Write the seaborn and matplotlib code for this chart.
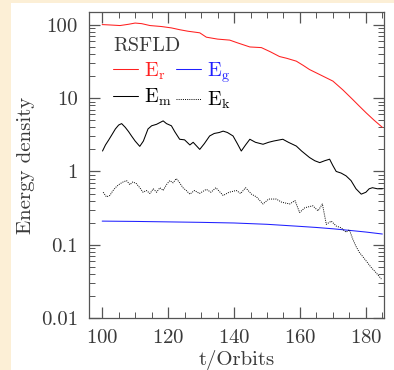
import numpy as np
import pandas as pd
import seaborn as sns
import matplotlib
matplotlib.use("Agg")
import matplotlib.pyplot as plt
from matplotlib.ticker import MultipleLocator, FixedLocator, FixedFormatter, LogLocator, NullFormatter
from matplotlib.patches import Rectangle

# ---- data ----
er_t = [100, 102, 105.4, 108, 110, 112, 114.5, 118, 121, 123.5, 126, 129.6, 131.6, 135, 138.7,
        141, 144.8, 148.3, 151, 153.8, 156, 158.9, 161, 162.9, 166, 170, 173, 176, 178, 180.1, 182.5, 185]
er_v = [101, 100, 98, 102, 106, 104, 98, 95, 91, 86, 82, 78, 68, 64, 62,
        57, 50, 49, 43, 37, 35, 32, 28, 24.6, 21, 17.1, 13, 9.6, 7.8, 6.3, 5.0, 4.0]

eg_t = [100, 110, 120, 130, 140, 150, 160, 165, 170, 175, 180, 185]
eg_v = [0.21, 0.208, 0.205, 0.202, 0.198, 0.19, 0.178, 0.172, 0.165, 0.157, 0.149, 0.14]

em_t = [100.1, 101, 102, 103, 104, 105, 105.9, 107, 108, 108.9, 110, 111.4, 112.5, 113.9, 115,
        116.5, 118.5, 119.5, 121, 122, 123.5, 125, 126.6, 127.6, 129.6, 131, 132.6, 134, 135.5,
        136.7, 138, 139.7, 141, 142.2, 143.5, 144.8, 146.5, 148.8, 150.5, 152, 154.8, 156.5,
        158.9, 160.5, 162.9, 164.5, 166, 167.5, 169, 170, 171, 172.5, 174, 175.5, 177, 178.6,
        180, 181, 182, 183.5, 185]
em_v = [1.9, 2.3, 2.7, 3.2, 3.8, 4.3, 4.5, 4.0, 3.5, 3.05, 2.6, 2.2, 2.6, 3.8, 4.2,
        4.4, 4.9, 4.5, 4.2, 3.5, 2.75, 2.7, 2.3, 2.5, 2.0, 2.4, 3.05, 3.3, 3.4,
        3.55, 3.4, 3.05, 2.4, 1.9, 2.3, 2.75, 2.5, 2.35, 2.5, 2.6, 2.75, 2.5,
        2.22, 1.9, 1.55, 1.4, 1.32, 1.4, 1.47, 1.2, 1.0, 0.95, 0.87, 0.75, 0.58, 0.49,
        0.52, 0.58, 0.6, 0.58, 0.58]

ek_t = [100.3, 101.3, 102.3, 103.3, 104.3, 105.4, 106.4, 107.4, 108.4, 109.3, 110.4, 111.4, 112.4,
        113.4, 114.5, 115.5, 116.5, 117.5, 118.5, 119.5, 120.5, 121.5, 122.5, 123.5, 124.5, 125.5,
        126.6, 128, 129.5, 131.6, 133, 134.5, 136.7, 138.5, 140.7, 142, 143.5, 145.3, 146.8,
        148.8, 150.5, 152.8, 154.5, 156.9, 158.5, 159.9, 161.5, 163.9, 165.5, 166.8, 168,
        169.5, 171, 172.5, 174, 175, 176, 177, 178, 179.5, 181.6, 183, 184.7]
ek_v = [0.52, 0.45, 0.47, 0.55, 0.62, 0.68, 0.72, 0.75, 0.66, 0.72, 0.68, 0.6, 0.52,
        0.55, 0.5, 0.58, 0.52, 0.6, 0.55, 0.66, 0.75, 0.7, 0.8, 0.7, 0.6, 0.55,
        0.49, 0.55, 0.5, 0.57, 0.52, 0.6, 0.47, 0.52, 0.55, 0.5, 0.6, 0.49, 0.45,
        0.36, 0.42, 0.42, 0.38, 0.36, 0.4, 0.275, 0.32, 0.34, 0.29, 0.36, 0.19,
        0.21, 0.18, 0.17, 0.148, 0.16, 0.12, 0.095, 0.079, 0.065, 0.049, 0.042, 0.034]

ytick_vals = [0.01, 0.1, 1, 10, 100]
ytick_labels = ["0.01", "0.1", "1", "10", "100"]
xtick_vals = [100, 120, 140, 160, 180]

# ---- style ----
sns.set_style("ticks")
plt.rcParams["font.family"] = ["cmr10", "DejaVu Serif"]
plt.rcParams["mathtext.fontset"] = "cm"
plt.rcParams["axes.unicode_minus"] = False
plt.rcParams["axes.formatter.use_mathtext"] = True

peach = "#fcefd6"
txt_c = "#3a3a3a"
fig = plt.figure(figsize=(3.94, 3.70), dpi=100, facecolor=peach)
bg = Rectangle((11 / 394, 0), 1, 1 - 3 / 370, transform=fig.transFigure,
               facecolor="white", edgecolor="none", zorder=-10)
fig.add_artist(bg)
ax = fig.add_axes([89 / 394, 1 - 318 / 370, 295 / 394, 306 / 370])
ax.set_facecolor("white")

sns.lineplot(x=er_t, y=er_v, ax=ax, color="#ff2020", lw=0.75, label=r"E$_\mathrm{r}$")
sns.lineplot(x=em_t, y=em_v, ax=ax, color="black", lw=0.75, label=r"E$_\mathrm{m}$")
sns.lineplot(x=eg_t, y=eg_v, ax=ax, color="#2020ff", lw=0.75, label=r"E$_\mathrm{g}$")
sns.lineplot(x=ek_t, y=ek_v, ax=ax, color="black", lw=0.7, linestyle=(0, (1, 1.2)),
             label=r"E$_\mathrm{k}$")

ax.set_yscale("log")
ax.set_xlim(96, 185.5)
ax.set_ylim(0.01, 150)

ax.xaxis.set_major_locator(FixedLocator(xtick_vals))
ax.xaxis.set_minor_locator(MultipleLocator(5))
ax.yaxis.set_major_locator(FixedLocator(ytick_vals))
ax.yaxis.set_major_formatter(FixedFormatter(ytick_labels))
ax.yaxis.set_minor_locator(LogLocator(base=10, subs=np.arange(2, 10)))
ax.yaxis.set_minor_formatter(NullFormatter())

spine_c = "#555555"
for s in ax.spines.values():
    s.set_visible(True)
    s.set_color(spine_c)
    s.set_linewidth(0.9)
ax.tick_params(which="both", direction="in", top=True, right=True, color=spine_c,
               labelsize=15, labelcolor=txt_c)
ax.tick_params(which="major", length=8, width=0.9)
ax.tick_params(which="minor", length=4, width=0.7)
ax.tick_params(axis="x", pad=8)
ax.tick_params(axis="y", pad=8)

ax.set_xlabel("t/Orbits", fontsize=15, color=txt_c, labelpad=2)
ax.set_ylabel("Energy density", fontsize=15, color=txt_c, labelpad=4)

leg = ax.legend(loc="upper left", bbox_to_anchor=(0.0814, 0.918), ncol=2, frameon=False,
                title="RSFLD", fontsize=14.5, title_fontsize=14.5, handlelength=1.25,
                handletextpad=0.3, columnspacing=0.2, labelspacing=0.25, alignment="left",
                borderpad=0, borderaxespad=0, labelcolor="linecolor")
leg.get_title().set_color(txt_c)

fig.savefig("out.png", dpi=100, facecolor=peach)
